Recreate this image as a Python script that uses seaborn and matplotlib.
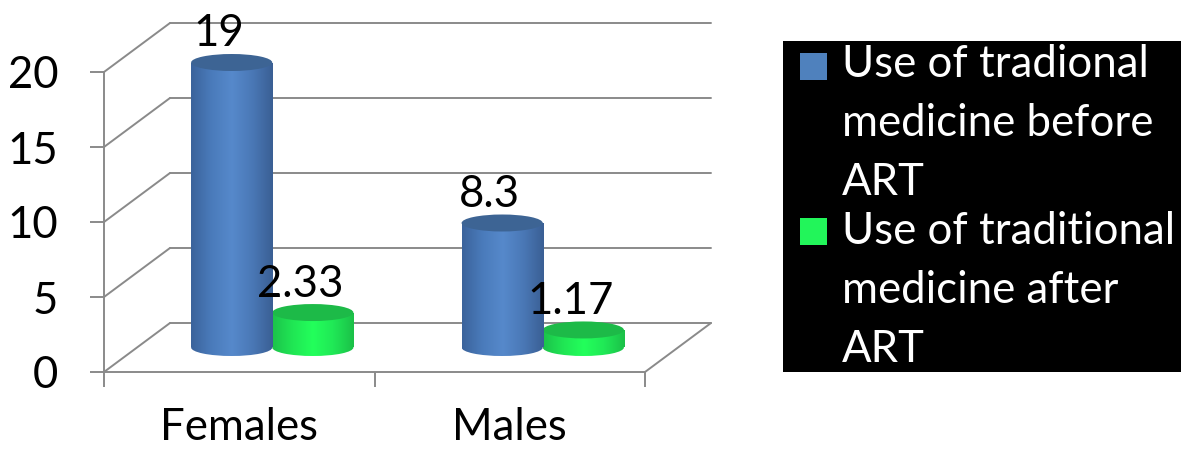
import numpy as np
import pandas as pd
import matplotlib
matplotlib.use("Agg")
import matplotlib.pyplot as plt
import seaborn as sns
from matplotlib.patches import Ellipse, Rectangle
from matplotlib.colors import LinearSegmentedColormap

# ---------------- data ----------------
categories = ["Females", "Males"]
series = ["Use of tradional medicine before ART",
          "Use of traditional medicine after ART"]
legend_labels = ["Use of tradional\nmedicine before\nART",
                 "Use of traditional\nmedicine after\nART"]
before_art = [19, 8.3]
after_art = [2.33, 1.17]
before_text = ["19", "8.3"]
after_text = ["2.33", "1.17"]
y_ticks = [0, 5, 10, 15, 20]

df = pd.DataFrame({
    "Category": categories * 2,
    "Series": [series[0]] * 2 + [series[1]] * 2,
    "Value": before_art + after_art,
})

# ---------------- style ----------------
sns.set_theme(style="white")
plt.rcParams["font.family"] = ["Lato", "DejaVu Sans"]

legend_colors = ["#4f81bd", "#22f55a"]
body_cmaps = [
    LinearSegmentedColormap.from_list("b", ["#3b639b", "#4a7bbb", "#5689cb", "#4a78b6", "#3a5f94"]),
    LinearSegmentedColormap.from_list("g", ["#1cc24a", "#20e654", "#23ff5b", "#20e856", "#1bc048"]),
]
cap_colors = ["#3d6494", "#1dba48"]
GRID = "#8a8a8a"
FS = 31.5

W, H, DPI = 1181, 450, 100
fig = plt.figure(figsize=(W / DPI, H / DPI), dpi=DPI)
fig.patch.set_facecolor("white")

# front plane of the 3-D box (pixels)
x0, x1, yb, yt = 104, 645, 372, 72
ax = fig.add_axes([x0 / W, (H - yb) / H, (x1 - x0) / W, (yb - yt) / H])
ax.patch.set_alpha(0)

sns.barplot(data=df, x="Category", y="Value", hue="Series",
            order=categories, hue_order=series, palette=legend_colors,
            width=0.6, saturation=1, legend=False, ax=ax)
ax.set_xlim(-0.5, 1.5)
ax.set_ylim(0, 20)

# pixel -> data conversions
px_x = (x1 - x0) / 2.0      # px per x unit
px_y = (yb - yt) / 20.0     # px per y unit
ddx = 66 / px_x             # depth offset in data units
ddy = 49 / px_y
eh = 17 / px_y              # ellipse height (data units)

# ---------------- 3-D box: walls / gridlines ----------------
lw = 1.4
for v in y_ticks:
    ax.plot([-0.5 + ddx, 1.5 + ddx], [v + ddy, v + ddy], color=GRID, lw=lw,
            clip_on=False, zorder=0.5)
    ax.plot([-0.5, -0.5 + ddx], [v, v + ddy], color=GRID, lw=lw,
            clip_on=False, zorder=0.5)
ax.plot([1.5, 1.5 + ddx], [0, ddy], color=GRID, lw=lw, clip_on=False, zorder=0.5)

# ---------------- cylinders ----------------
grad = np.linspace(0, 1, 256)[None, :]
value_texts = [before_text, after_text]
for si, cont in enumerate(ax.containers):
    z = 3 if si == 0 else 2.5
    for bi, bar in enumerate(cont):
        x = bar.get_x()
        w = bar.get_width()
        h = bar.get_height()
        xs = x + ddx / 2
        base = ddy / 2
        top = base + h
        cx = xs + w / 2
        bar.set_x(xs)
        bar.set_y(base)
        bar.set_facecolor("none")
        bar.set_edgecolor("none")
        # body
        im = ax.imshow(grad, cmap=body_cmaps[si], aspect="auto", origin="lower",
                       extent=[xs, xs + w, base - eh / 2, top], zorder=z,
                       interpolation="bilinear")
        im.set_clip_path(bar)
        # bottom half ellipse
        bot = Ellipse((cx, base), w, eh, facecolor="none", edgecolor="none")
        ax.add_patch(bot)
        im2 = ax.imshow(grad, cmap=body_cmaps[si], aspect="auto", origin="lower",
                        extent=[xs, xs + w, base - eh / 2, top], zorder=z,
                        interpolation="bilinear")
        im2.set_clip_path(bot)
        im2.set_clip_box(None)
        # top cap
        cap = Ellipse((cx, top), w, eh, facecolor=cap_colors[si], edgecolor="none",
                      zorder=z + 0.01, clip_on=False)
        ax.add_patch(cap)
        # value label
        ax.text(cx - 13 / px_x, top + 16 / px_y, value_texts[si][bi],
                ha="center", va="baseline", fontsize=FS, color="black",
                zorder=6, clip_on=False)

ax.set_xlim(-0.5, 1.5)
ax.set_ylim(0, 20)

# ---------------- axes / ticks ----------------
for s in ["top", "right"]:
    ax.spines[s].set_visible(False)
for s in ["left", "bottom"]:
    ax.spines[s].set_color(GRID)
    ax.spines[s].set_linewidth(lw)
ax.set_yticks(y_ticks)
ax.set_yticklabels([str(t) for t in y_ticks])
ax.set_xticks(range(len(categories)))
ax.set_xticklabels(categories)
ax.set_xticks([-0.5, 0.5, 1.5], minor=True)
ax.tick_params(axis="y", which="major", direction="out", length=10, width=lw,
               color=GRID, pad=23, labelsize=FS, labelcolor="black", left=True)
ax.tick_params(axis="x", which="major", length=0, pad=25, labelsize=FS,
               labelcolor="black")
ax.tick_params(axis="x", which="minor", direction="out", length=11, width=lw,
               color=GRID, bottom=True)
ax.set_xlabel("")
ax.set_ylabel("")
ax.grid(False)

# ---------------- legend (black box) ----------------
fig.patches.append(Rectangle((783 / W, (H - 372) / H), (1181 - 783) / W, (372 - 41) / H,
                             transform=fig.transFigure, facecolor="black",
                             edgecolor="none", zorder=0))
sq_tops = [53, 218]
text_tops = [44, 211]
for i in range(len(series)):
    fig.patches.append(Rectangle((800 / W, (H - sq_tops[i] - 27) / H), 27 / W, 27 / H,
                                 transform=fig.transFigure,
                                 facecolor=legend_colors[i], edgecolor="none", zorder=1))
    fig.text(842 / W, (H - text_tops[i]) / H, legend_labels[i], color="white",
             fontsize=FS, va="top", ha="left", linespacing=1.55)

fig.savefig("out.png", dpi=DPI, facecolor="white")
